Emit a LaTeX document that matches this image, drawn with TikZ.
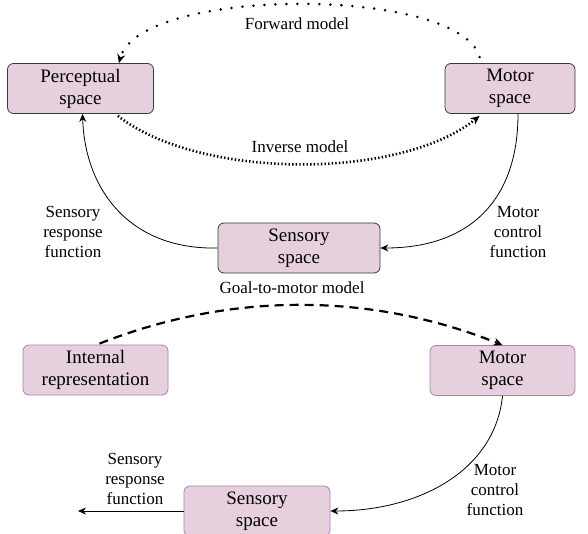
\documentclass[tikz,border=0pt]{standalone}
\usepackage{fontspec}
\setmainfont{Liberation Serif}
\usepackage{tikz}
\usetikzlibrary{arrows.meta,positioning,calc}
\definecolor{spaceFill}{HTML}{E6D0DE}
\definecolor{spaceEdge}{HTML}{A680B8}
\definecolor{spaceDark}{HTML}{36393D}

\begin{document}
\begin{tikzpicture}[x=1pt,y=-1pt,
    spacebox/.style={fill=spaceFill,draw=spaceEdge,line width=0.8pt,rounded corners=6pt,
                     align=center,inner sep=0pt,minimum height=50pt,
                     font=\fontsize{19}{22}\selectfont},
    darkbox/.style={spacebox,draw=spaceDark},
    lbl/.style={align=center,inner sep=0pt,font=\fontsize{17}{20}\selectfont},
    flow/.style={-{Stealth[length=8pt,width=7pt]},line width=0.8pt},
    sparsedots/.style={-{Stealth[length=9pt,width=8pt]},line width=2.8pt,line cap=round,dash pattern=on 0pt off 11pt},
    densedots/.style={-{Stealth[length=9pt,width=8pt]},line width=2.6pt,dash pattern=on 1.4pt off 2.2pt},
    goaldash/.style={-{Stealth[length=9pt,width=8pt]},line width=2.2pt,dash pattern=on 9pt off 6pt}]
  \useasboundingbox (0,0) rectangle (588,534);

  % upper loop
  \node[darkbox,minimum width=146pt] (perc) at (80.5,88.5) {Perceptual\\space};
  \node[darkbox,minimum width=130pt] (mtop) at (510,88.5) {Motor\\space};
  \node[darkbox,minimum width=162pt] (stop) at (299,248) {Sensory\\space};

  \node[lbl] (fwdlbl) at (297,24) {Forward model};
  \node[lbl] (invlbl) at (300,147) {Inverse model};
  \node[lbl] (srflbl) at (73,232) {Sensory\\response\\function};
  \node[lbl] (mcflbl) at (518,232) {Motor\\control\\function};

  \draw[sparsedots] ($(mtop.north west)+(35,-6)$) .. controls (460,-14) and (140,-14) .. ($(perc.north east)+(-35,0)$);
  \draw[densedots] ($(perc.south east)+(-36,2)$) .. controls (200,180) and (400,180) .. ($(mtop.south west)+(35,2)$);
  \draw[flow] (stop.west) .. controls (130,250) and (85,190) .. ($(perc.south)+(2,0)$);
  \draw[flow] ($(mtop.south)+(8,0)$) .. controls (518,200) and (470,248) .. (stop.east);

  % lower chain
  \node[lbl] (goallbl) at (292,288) {Goal-to-motor model};
  \node[spacebox,minimum width=145pt] (intrep) at (95.5,370) {Internal\\representation};
  \node[spacebox,minimum width=145pt] (mbot) at (502.5,370.5) {Motor\\space};
  \node[spacebox,minimum width=146pt] (sbot) at (257,511) {Sensory\\space};
  \coordinate (sout) at (78,511);

  \node[lbl] (mcflbl2) at (495,490) {Motor\\control\\function};
  \node[lbl] (srflbl2) at (135,479) {Sensory\\response\\function};

  \draw[goaldash] ($(intrep.north)+(4,-1)$) .. controls (230,292) and (370,292) .. (mbot.north);
  \draw[flow] (mbot.south) .. controls (495,470) and (420,511) .. (sbot.east);
  \draw[flow] (sbot.west) -- (sout);
\end{tikzpicture}
\end{document}
